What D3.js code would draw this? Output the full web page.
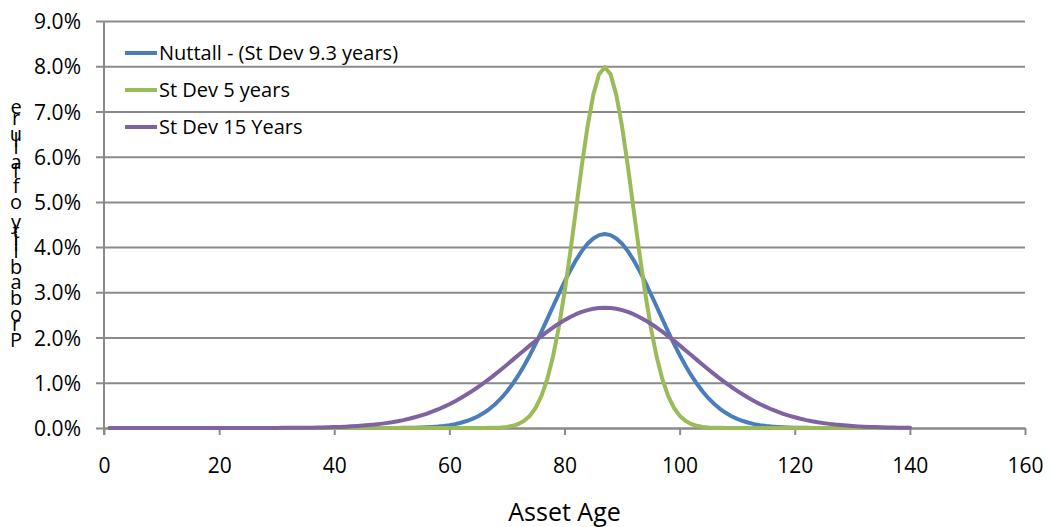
<!DOCTYPE html>
<html>
<head>
<meta charset="utf-8">
<script src="https://cdn.jsdelivr.net/npm/d3@7"></script>
<style>
  html, body { margin: 0; padding: 0; background: #fff; }
  svg { display: block; }
  text { font-family: "Open Sans", "Noto Sans", sans-serif; fill: #000; }
</style>
</head>
<body>
<svg id="chart" width="1052" height="527"></svg>
<script>
// Asset ages 1..140 (one point per year)
const ages = d3.range(1, 141);

// Probability of failure (%) at each age, mean life 87 years
const nuttall = [
  0,0,0,0,0,0,0,0,0,0,           // 1-10
  0,0,0,0,0,0,0,0,0,0,           // 11-20
  0,0,0,0,0,0,0,0,0,0,           // 21-30
  0,0,0,0,0,0,0,0,0,0,           // 31-40
  0,0,0,0,0,0,0,0.001,0.001,0.002,   // 41-50
  0.002,0.004,0.005,0.008,0.012,0.017,0.024,0.033,0.046,0.063, // 51-60
  0.086,0.116,0.154,0.202,0.261,0.335,0.425,0.532,0.659,0.807, // 61-70
  0.977,1.168,1.382,1.615,1.866,2.131,2.407,2.686,2.963,3.232, // 71-80
  3.484,3.713,3.911,4.073,4.192,4.265,4.290,4.265,4.192,4.073, // 81-90
  3.911,3.713,3.484,3.232,2.963,2.686,2.407,2.131,1.866,1.615, // 91-100
  1.382,1.168,0.977,0.807,0.659,0.532,0.425,0.335,0.261,0.202, // 101-110
  0.154,0.116,0.086,0.063,0.046,0.033,0.024,0.017,0.012,0.008, // 111-120
  0.005,0.004,0.002,0.002,0.001,0.001,0,0,0,0,                 // 121-130
  0,0,0,0,0,0,0,0,0,0                                          // 131-140
];

const sd5 = [
  0,0,0,0,0,0,0,0,0,0,           // 1-10
  0,0,0,0,0,0,0,0,0,0,           // 11-20
  0,0,0,0,0,0,0,0,0,0,           // 21-30
  0,0,0,0,0,0,0,0,0,0,           // 31-40
  0,0,0,0,0,0,0,0,0,0,           // 41-50
  0,0,0,0,0,0,0,0,0,0,           // 51-60
  0,0,0,0,0,0.001,0.003,0.006,0.012,0.025,                     // 61-70
  0.048,0.089,0.158,0.272,0.448,0.709,1.080,1.579,2.218,2.995, // 71-80
  3.884,4.839,5.794,6.665,7.366,7.821,7.979,7.821,7.366,6.665, // 81-90
  5.794,4.839,3.884,2.995,2.218,1.579,1.080,0.709,0.448,0.272, // 91-100
  0.158,0.089,0.048,0.025,0.012,0.006,0.003,0.001,0,0,         // 101-110
  0,0,0,0,0,0,0,0,0,0,           // 111-120
  0,0,0,0,0,0,0,0,0,0,           // 121-130
  0,0,0,0,0,0,0,0,0,0            // 131-140
];

const sd15 = [
  0,0,0,0,0,0,0,0,0,0,           // 1-10
  0,0,0,0,0,0,0,0,0,0,           // 11-20
  0,0,0,0,0.001,0.001,0.001,0.001,0.002,0.002,                 // 21-30
  0.003,0.003,0.004,0.005,0.007,0.008,0.010,0.013,0.016,0.020, // 31-40
  0.024,0.030,0.036,0.044,0.053,0.064,0.076,0.091,0.108,0.127, // 41-50
  0.149,0.175,0.204,0.237,0.273,0.314,0.360,0.410,0.466,0.526, // 51-60
  0.592,0.663,0.740,0.821,0.907,0.998,1.093,1.192,1.295,1.399, // 61-70
  1.506,1.613,1.721,1.827,1.931,2.033,2.130,2.222,2.307,2.385, // 71-80
  2.455,2.516,2.567,2.607,2.636,2.654,2.660,2.654,2.636,2.607, // 81-90
  2.567,2.516,2.455,2.385,2.307,2.222,2.130,2.033,1.931,1.827, // 91-100
  1.721,1.613,1.506,1.399,1.295,1.192,1.093,0.998,0.907,0.821, // 101-110
  0.740,0.663,0.592,0.526,0.466,0.410,0.360,0.314,0.273,0.237, // 111-120
  0.204,0.175,0.149,0.127,0.108,0.091,0.076,0.064,0.053,0.044, // 121-130
  0.036,0.030,0.024,0.020,0.016,0.013,0.010,0.008,0.007,0.005  // 131-140
];

const seriesNames = ["Nuttall - (St Dev 9.3 years)", "St Dev 5 years", "St Dev 15 Years"];
const seriesColors = ["#4a7ebb", "#9bbb59", "#7f62a1"];
const seriesValues = [nuttall, sd5, sd15];

const xTicks = [0, 20, 40, 60, 80, 100, 120, 140, 160];
const yTicks = [0, 1, 2, 3, 4, 5, 6, 7, 8, 9];
const xTitle = "Asset Age";
const yTitle = "Probability of failure";

const FONT = "'Open Sans', 'Noto Sans', sans-serif";
const svg = d3.select("#chart");
const x = d3.scaleLinear().domain([0, 160]).range([104, 1025]);
const y = d3.scaleLinear().domain([0, 9]).range([428, 21]);
const gridColor = "#8a8a8a";

// Horizontal gridlines with short outward ticks on the left
const yAxis = d3.axisLeft(y)
  .tickValues(yTicks)
  .tickSize(-(1025 - 104))
  .tickFormat(d => d.toFixed(1) + "%");
const gy = svg.append("g").attr("transform", "translate(104,0)").call(yAxis);
gy.select(".domain").remove();
gy.selectAll(".tick line").attr("stroke", gridColor).attr("stroke-width", 2).attr("x1", -8);
gy.selectAll(".tick text")
  .attr("x", -23)
  .attr("dy", "0.36em")
  .attr("font-size", 21)
  .attr("font-family", FONT)
  .attr("fill", "#000");

// Vertical axis line
svg.append("line")
  .attr("x1", x(0)).attr("x2", x(0))
  .attr("y1", y(9)).attr("y2", y(0) + 7)
  .attr("stroke", gridColor).attr("stroke-width", 2);

// Bottom axis
const xAxis = d3.axisBottom(x).tickValues(xTicks).tickSize(7).tickSizeOuter(0);
const gx = svg.append("g").attr("transform", `translate(0,${y(0)})`).call(xAxis);
gx.select(".domain").attr("stroke", gridColor).attr("stroke-width", 2);
gx.selectAll(".tick line").attr("stroke", gridColor).attr("stroke-width", 2);
gx.selectAll(".tick text")
  .attr("y", 30)
  .attr("font-size", 21)
  .attr("font-family", FONT)
  .attr("fill", "#000");

// Series lines
const line = d3.line()
  .x((d, i) => x(ages[i]))
  .y(d => y(d));

seriesValues.forEach((vals, k) => {
  svg.append("path")
    .datum(vals)
    .attr("d", line)
    .attr("fill", "none")
    .attr("stroke", seriesColors[k])
    .attr("stroke-width", 4)
    .attr("stroke-linejoin", "round")
    .attr("stroke-linecap", "round");
});

// Legend
const legend = svg.append("g");
const legendRows = [53, 90, 127];
seriesNames.forEach((name, k) => {
  legend.append("line")
    .attr("x1", 125).attr("x2", 157)
    .attr("y1", legendRows[k]).attr("y2", legendRows[k])
    .attr("stroke", seriesColors[k]).attr("stroke-width", 4);
  legend.append("text")
    .attr("x", 159).attr("y", legendRows[k])
    .attr("dy", "0.36em")
    .attr("font-size", 20)
    .text(name);
});

// X axis title
svg.append("text")
  .attr("x", (x(0) + x(160)) / 2)
  .attr("y", 521)
  .attr("text-anchor", "middle")
  .attr("font-size", 25)
  .text(xTitle);

// Y axis title: upright glyphs stacked bottom-to-top along the axis,
// one text element with a position per glyph
const chars = yTitle.split("");
const probe = svg.append("text").attr("font-size", 20);
const advances = chars.map(c => {
  probe.text(c === " " ? "\u00a0" : c);
  return probe.node().getComputedTextLength();
});
probe.remove();
const bottomBase = 347, topBase = 114;
const k = (bottomBase - topBase) / d3.sum(advances.slice(0, advances.length - 1));
const ys = [];
let cum = 0;
advances.forEach(a => { ys.push((bottomBase - cum * k).toFixed(1)); cum += a; });
svg.append("text")
  .attr("x", chars.map(() => 16).join(" "))
  .attr("y", ys.join(" "))
  .attr("text-anchor", "middle")
  .attr("font-size", 20)
  .text(yTitle);
</script>
</body>
</html>
